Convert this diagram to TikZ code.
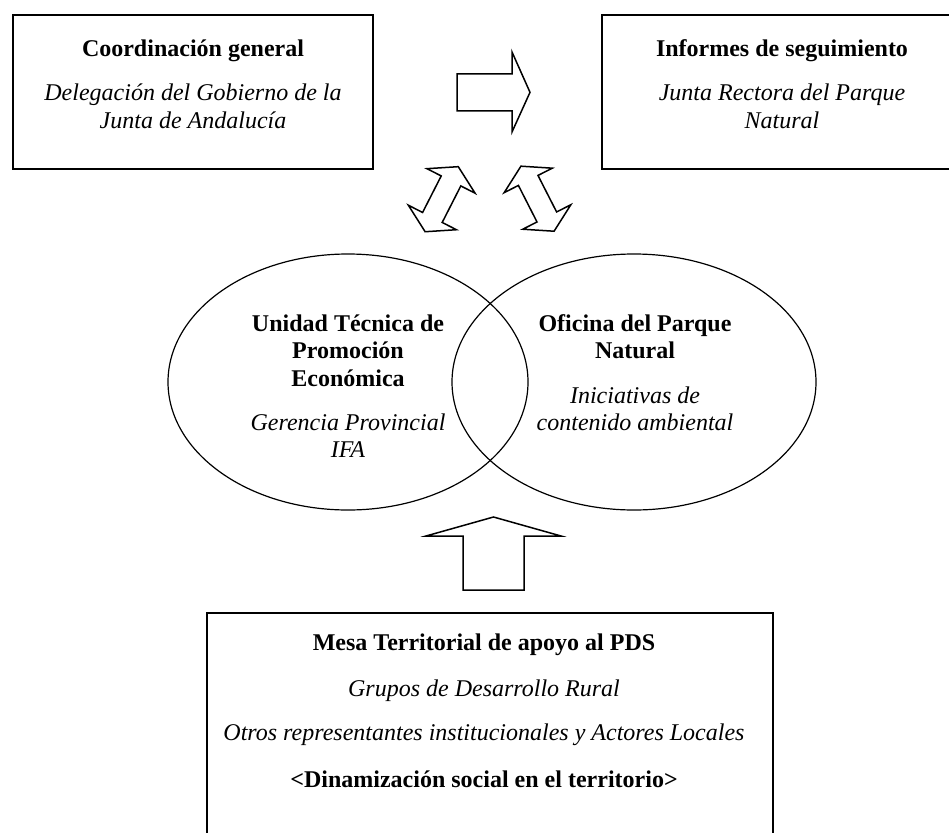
\documentclass[tikz,border=0pt]{standalone}
\usepackage{fontspec}
\setmainfont{Liberation Serif}
\usetikzlibrary{shapes.geometric}
\tikzset{
  frame/.style={draw, line width=1.7pt},
  oval/.style={draw, line width=1.2pt, ellipse, inner sep=0pt},
  blockarrow/.style={draw, line width=1.5pt, line join=miter, fill=white},
  ln/.style={anchor=base, inner sep=0pt, font=\fontsize{24}{27.6}\selectfont},
  bl/.style={ln, font=\fontsize{24}{27.6}\selectfont\bfseries},
  il/.style={ln, font=\fontsize{24}{27.6}\selectfont\itshape},
}
\begin{document}
\begin{tikzpicture}[x=1pt,y=-1pt]
\useasboundingbox (0,0) rectangle (949,832);
\clip (0,0) rectangle (949,832);
\fill[white] (0,0) rectangle (949,832);

% top boxes
\draw[frame] (13,15) rectangle (373,169);
\draw[frame] (602,15) rectangle (962,169);
\node[bl] (c1) at (193,57) {Coordinación general};
\node[il] (c2) at (193,101) {Delegación del Gobierno de la};
\node[il] (c3) at (193,128.6) {Junta de Andalucía};
\node[bl] (r1) at (782,57) {Informes de seguimiento};
\node[il] (r2) at (782,101) {Junta Rectora del Parque};
\node[il] (r3) at (782,128.6) {Natural};

% right block arrow
\draw[blockarrow] (457,74) -- (512,74) -- (512,52) -- (530,92.3) -- (512,132) -- (512,111) -- (457,111) -- cycle;

% double arrows
\begin{scope}[shift={(441.7,199.2)}, rotate=63]
\draw[blockarrow] (-20.5,11) -- (20.5,11) -- (20.5,27) -- (36.5,0) -- (20.5,-27) -- (20.5,-11)
  -- (-20.5,-11) -- (-20.5,-27) -- (-36.5,0) -- (-20.5,27) -- cycle;
\end{scope}
\begin{scope}[shift={(537.5,198.7)}, rotate=117]
\draw[blockarrow] (-20.5,11) -- (20.5,11) -- (20.5,27) -- (36.5,0) -- (20.5,-27) -- (20.5,-11)
  -- (-20.5,-11) -- (-20.5,-27) -- (-36.5,0) -- (-20.5,27) -- cycle;
\end{scope}

% ellipses
\node[oval, minimum width=360pt, minimum height=256pt] (e1) at (348,382) {};
\node[oval, minimum width=364pt, minimum height=256pt] (e2) at (634,382) {};
\node[bl] (u1) at (348,331) {Unidad Técnica de};
\node[bl] (u2) at (348,358.6) {Promoción};
\node[bl] (u3) at (348,386.2) {Económica};
\node[il] (u4) at (348,430) {Gerencia Provincial};
\node[il] (u5) at (348,457.6) {IFA};
\node[bl] (o1) at (635,331) {Oficina del Parque};
\node[bl] (o2) at (635,358.6) {Natural};
\node[il] (o3) at (635,403) {Iniciativas de};
\node[il] (o4) at (635,430.6) {contenido ambiental};

% up block arrow
\draw[blockarrow] (463,590) -- (463,536) -- (426,536) -- (493.5,517) -- (561,536) -- (524,536) -- (524,590) -- cycle;

% bottom box
\draw[frame] (207,900) -- (207,613) -- (773,613) -- (773,900);
\node[bl] (m1) at (484,650) {Mesa Territorial de apoyo al PDS};
\node[il] (m2) at (484,696) {Grupos de Desarrollo Rural};
\node[il] (m3) at (484,740) {Otros representantes institucionales y Actores Locales};
\node[bl] (m4) at (484,787) {<Dinamización social en el territorio>};
\end{tikzpicture}
\end{document}
